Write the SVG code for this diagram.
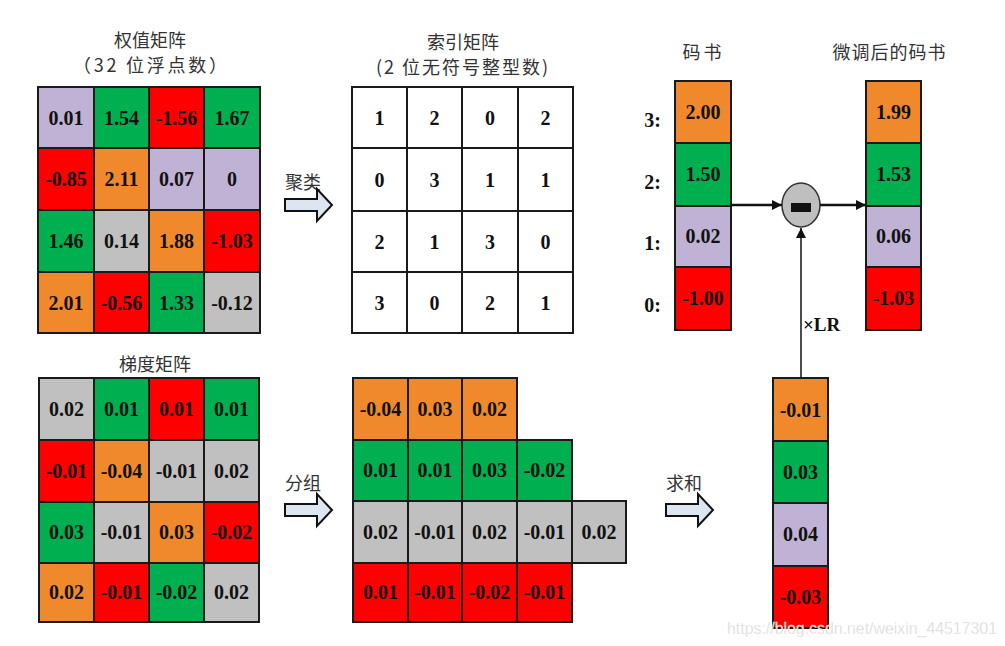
<svg xmlns="http://www.w3.org/2000/svg" width="1005" height="646" viewBox="0 0 1005 646">
<defs>
<style>
.bg{fill:#ffffff}
.c{stroke:#1a1a1a;stroke-width:2}
.pu{fill:#BFB2D4}.gr{fill:#00B050}.rd{fill:#FF0000}.or{fill:#F0892B}.gy{fill:#C0C0C0}.wh{fill:#ffffff}
.n{font-family:"Liberation Serif","Times New Roman",serif;font-weight:bold;font-size:20px;fill:#111;text-anchor:middle}
.t{font-family:"Noto Sans CJK SC","Noto Sans",sans-serif;font-size:18px;fill:#333;text-anchor:middle}
.tl{font-family:"Noto Sans CJK SC","Noto Sans",sans-serif;font-size:18px;fill:#333}
.lbl{font-family:"Liberation Serif","Times New Roman",serif;font-weight:bold;font-size:20px;fill:#111;text-anchor:end}
.ba{fill:#DCE6F2;stroke:#111;stroke-width:2;stroke-linejoin:miter}
.ln{stroke:#111;fill:none}
.wm{font-family:"Liberation Sans",Arial,sans-serif;font-size:17px;fill:#d8d8d8;stroke:#ffffff;stroke-width:0.3}
</style>
<path id="blockArrow" d="M0,-6 H32 V-16 L47,0 L32,16 V6 H0 Z"/>
<marker id="ah" viewBox="0 0 10 10" refX="10" refY="5" markerWidth="10" markerHeight="10" markerUnits="userSpaceOnUse" orient="auto">
<path d="M0,0 L10,5 L0,10 Z" fill="#111"/>
</marker>
</defs>
<rect class="bg" x="0" y="0" width="1005" height="646"/>

<g id="weight-matrix">
<text class="t" x="150" y="47">权值矩阵</text>
<text class="t" x="150" y="72" textLength="154" lengthAdjust="spacing">（32 位浮点数）</text>
<rect class="c pu" x="38" y="87" width="56" height="61"/><text class="n" x="66" y="125">0.01</text>
<rect class="c gr" x="94" y="87" width="55" height="61"/><text class="n" x="121.5" y="125">1.54</text>
<rect class="c rd" x="149" y="87" width="55" height="61"/><text class="n" x="176.5" y="125">-1.56</text>
<rect class="c gr" x="204" y="87" width="56" height="61"/><text class="n" x="232" y="125">1.67</text>
<rect class="c rd" x="38" y="148" width="56" height="62"/><text class="n" x="66" y="186">-0.85</text>
<rect class="c or" x="94" y="148" width="55" height="62"/><text class="n" x="121.5" y="186">2.11</text>
<rect class="c pu" x="149" y="148" width="55" height="62"/><text class="n" x="176.5" y="186">0.07</text>
<rect class="c pu" x="204" y="148" width="56" height="62"/><text class="n" x="232" y="186">0</text>
<rect class="c gr" x="38" y="210" width="56" height="62"/><text class="n" x="66" y="248">1.46</text>
<rect class="c gy" x="94" y="210" width="55" height="62"/><text class="n" x="121.5" y="248">0.14</text>
<rect class="c or" x="149" y="210" width="55" height="62"/><text class="n" x="176.5" y="248">1.88</text>
<rect class="c rd" x="204" y="210" width="56" height="62"/><text class="n" x="232" y="248">-1.03</text>
<rect class="c or" x="38" y="272" width="56" height="61"/><text class="n" x="66" y="310">2.01</text>
<rect class="c rd" x="94" y="272" width="55" height="61"/><text class="n" x="121.5" y="310">-0.56</text>
<rect class="c gr" x="149" y="272" width="55" height="61"/><text class="n" x="176.5" y="310">1.33</text>
<rect class="c gy" x="204" y="272" width="56" height="61"/><text class="n" x="232" y="310">-0.12</text>
</g>

<g id="index-matrix">
<text class="t" x="463" y="49">索引矩阵</text>
<text class="t" x="462" y="74" textLength="172" lengthAdjust="spacing">(2 位无符号整型数)</text>
<rect class="c wh" x="352" y="87" width="55" height="61"/><text class="n" x="379.5" y="125">1</text>
<rect class="c wh" x="407" y="87" width="55" height="61"/><text class="n" x="434.5" y="125">2</text>
<rect class="c wh" x="462" y="87" width="56" height="61"/><text class="n" x="490" y="125">0</text>
<rect class="c wh" x="518" y="87" width="55" height="61"/><text class="n" x="545.5" y="125">2</text>
<rect class="c wh" x="352" y="148" width="55" height="63"/><text class="n" x="379.5" y="187">0</text>
<rect class="c wh" x="407" y="148" width="55" height="63"/><text class="n" x="434.5" y="187">3</text>
<rect class="c wh" x="462" y="148" width="56" height="63"/><text class="n" x="490" y="187">1</text>
<rect class="c wh" x="518" y="148" width="55" height="63"/><text class="n" x="545.5" y="187">1</text>
<rect class="c wh" x="352" y="211" width="55" height="61"/><text class="n" x="379.5" y="249">2</text>
<rect class="c wh" x="407" y="211" width="55" height="61"/><text class="n" x="434.5" y="249">1</text>
<rect class="c wh" x="462" y="211" width="56" height="61"/><text class="n" x="490" y="249">3</text>
<rect class="c wh" x="518" y="211" width="55" height="61"/><text class="n" x="545.5" y="249">0</text>
<rect class="c wh" x="352" y="272" width="55" height="61"/><text class="n" x="379.5" y="310">3</text>
<rect class="c wh" x="407" y="272" width="55" height="61"/><text class="n" x="434.5" y="310">0</text>
<rect class="c wh" x="462" y="272" width="56" height="61"/><text class="n" x="490" y="310">2</text>
<rect class="c wh" x="518" y="272" width="55" height="61"/><text class="n" x="545.5" y="310">1</text>
</g>

<g id="codebook">
<text class="t" x="702" y="59" textLength="39" lengthAdjust="spacing">码书</text>
<rect class="c or" x="675" y="81" width="56" height="62"/><text class="n" x="703" y="119">2.00</text>
<rect class="c gr" x="675" y="143" width="56" height="63"/><text class="n" x="703" y="181">1.50</text>
<rect class="c pu" x="675" y="206" width="56" height="61"/><text class="n" x="703" y="243">0.02</text>
<rect class="c rd" x="675" y="267" width="56" height="63"/><text class="n" x="703" y="305">-1.00</text>
<text class="lbl" x="661" y="127">3:</text>
<text class="lbl" x="661" y="189">2:</text>
<text class="lbl" x="661" y="250">1:</text>
<text class="lbl" x="661" y="312">0:</text>
</g>

<g id="finetuned-codebook">
<text class="t" x="889" y="59" textLength="113" lengthAdjust="spacing">微调后的码书</text>
<rect class="c or" x="866" y="81" width="55" height="62"/><text class="n" x="893.5" y="119">1.99</text>
<rect class="c gr" x="866" y="143" width="55" height="63"/><text class="n" x="893.5" y="181">1.53</text>
<rect class="c pu" x="866" y="206" width="55" height="61"/><text class="n" x="893.5" y="243">0.06</text>
<rect class="c rd" x="866" y="267" width="55" height="63"/><text class="n" x="893.5" y="305">-1.03</text>
</g>

<g id="subtract">
<ellipse cx="801" cy="205" rx="19" ry="22" fill="#BFBFBF" stroke="#333" stroke-width="1.5"/>
<rect x="791" y="203" width="20" height="9" fill="#111"/>
</g>

<g id="gradient-matrix">
<text class="t" x="155" y="371">梯度矩阵</text>
<rect class="c gy" x="39" y="378" width="55" height="62"/><text class="n" x="66.5" y="416">0.02</text>
<rect class="c gr" x="94" y="378" width="55" height="62"/><text class="n" x="121.5" y="416">0.01</text>
<rect class="c rd" x="149" y="378" width="55" height="62"/><text class="n" x="176.5" y="416">0.01</text>
<rect class="c gr" x="204" y="378" width="55" height="62"/><text class="n" x="231.5" y="416">0.01</text>
<rect class="c rd" x="39" y="440" width="55" height="62"/><text class="n" x="66.5" y="478">-0.01</text>
<rect class="c or" x="94" y="440" width="55" height="62"/><text class="n" x="121.5" y="478">-0.04</text>
<rect class="c gy" x="149" y="440" width="55" height="62"/><text class="n" x="176.5" y="478">-0.01</text>
<rect class="c gy" x="204" y="440" width="55" height="62"/><text class="n" x="231.5" y="478">0.02</text>
<rect class="c gr" x="39" y="502" width="55" height="61"/><text class="n" x="66.5" y="539">0.03</text>
<rect class="c gy" x="94" y="502" width="55" height="61"/><text class="n" x="121.5" y="539">-0.01</text>
<rect class="c or" x="149" y="502" width="55" height="61"/><text class="n" x="176.5" y="539">0.03</text>
<rect class="c rd" x="204" y="502" width="55" height="61"/><text class="n" x="231.5" y="539">-0.02</text>
<rect class="c or" x="39" y="563" width="55" height="59"/><text class="n" x="66.5" y="599">0.02</text>
<rect class="c rd" x="94" y="563" width="55" height="59"/><text class="n" x="121.5" y="599">-0.01</text>
<rect class="c gr" x="149" y="563" width="55" height="59"/><text class="n" x="176.5" y="599">-0.02</text>
<rect class="c gy" x="204" y="563" width="55" height="59"/><text class="n" x="231.5" y="599">0.02</text>
</g>

<g id="grouped-gradients">
<rect class="c or" x="353" y="378" width="55" height="62"/><text class="n" x="380.5" y="416">-0.04</text>
<rect class="c or" x="408" y="378" width="54" height="62"/><text class="n" x="435" y="416">0.03</text>
<rect class="c or" x="462" y="378" width="55" height="62"/><text class="n" x="489.5" y="416">0.02</text>
<rect class="c gr" x="353" y="440" width="55" height="61"/><text class="n" x="380.5" y="477">0.01</text>
<rect class="c gr" x="408" y="440" width="54" height="61"/><text class="n" x="435" y="477">0.01</text>
<rect class="c gr" x="462" y="440" width="55" height="61"/><text class="n" x="489.5" y="477">0.03</text>
<rect class="c gr" x="517" y="440" width="55" height="61"/><text class="n" x="544.5" y="477">-0.02</text>
<rect class="c gy" x="353" y="501" width="55" height="62"/><text class="n" x="380.5" y="539">0.02</text>
<rect class="c gy" x="408" y="501" width="54" height="62"/><text class="n" x="435" y="539">-0.01</text>
<rect class="c gy" x="462" y="501" width="55" height="62"/><text class="n" x="489.5" y="539">0.02</text>
<rect class="c gy" x="517" y="501" width="55" height="62"/><text class="n" x="544.5" y="539">-0.01</text>
<rect class="c gy" x="572" y="501" width="54" height="62"/><text class="n" x="599" y="539">0.02</text>
<rect class="c rd" x="353" y="563" width="55" height="59"/><text class="n" x="380.5" y="599">0.01</text>
<rect class="c rd" x="408" y="563" width="54" height="59"/><text class="n" x="435" y="599">-0.01</text>
<rect class="c rd" x="462" y="563" width="55" height="59"/><text class="n" x="489.5" y="599">-0.02</text>
<rect class="c rd" x="517" y="563" width="55" height="59"/><text class="n" x="544.5" y="599">-0.01</text>
</g>

<g id="summed-gradients">
<rect class="c or" x="773" y="378" width="55" height="63"/><text class="n" x="800.5" y="417">-0.01</text>
<rect class="c gr" x="773" y="441" width="55" height="62"/><text class="n" x="800.5" y="479">0.03</text>
<rect class="c pu" x="773" y="503" width="55" height="63"/><text class="n" x="800.5" y="541">0.04</text>
<rect class="c rd" x="773" y="566" width="55" height="62"/><text class="n" x="800.5" y="604">-0.03</text>
</g>

<g id="connectors">
<g id="arrow-cluster">
<text class="tl" x="285" y="189">聚类</text>
<use href="#blockArrow" class="ba" transform="translate(285,205)"/>
</g>
<g id="arrow-group">
<text class="tl" x="285" y="490">分组</text>
<use href="#blockArrow" class="ba" transform="translate(285,510)"/>
</g>
<g id="arrow-sum">
<text class="tl" x="666" y="490">求和</text>
<use href="#blockArrow" class="ba" transform="translate(666,510)"/>
</g>
<line class="ln" x1="731" y1="205" x2="782" y2="205" stroke-width="2.5" marker-end="url(#ah)"/>
<line class="ln" x1="820" y1="205" x2="866" y2="205" stroke-width="2.5" marker-end="url(#ah)"/>
<line class="ln" x1="801" y1="378" x2="801" y2="228" stroke-width="1.5" marker-end="url(#ah)"/>
<text class="n" x="803" y="331" style="text-anchor:start;font-size:19px">×LR</text>
</g>

<text class="wm" x="727" y="634" textLength="270" lengthAdjust="spacingAndGlyphs">https://blog.csdn.net/weixin_44517301</text>
</svg>
